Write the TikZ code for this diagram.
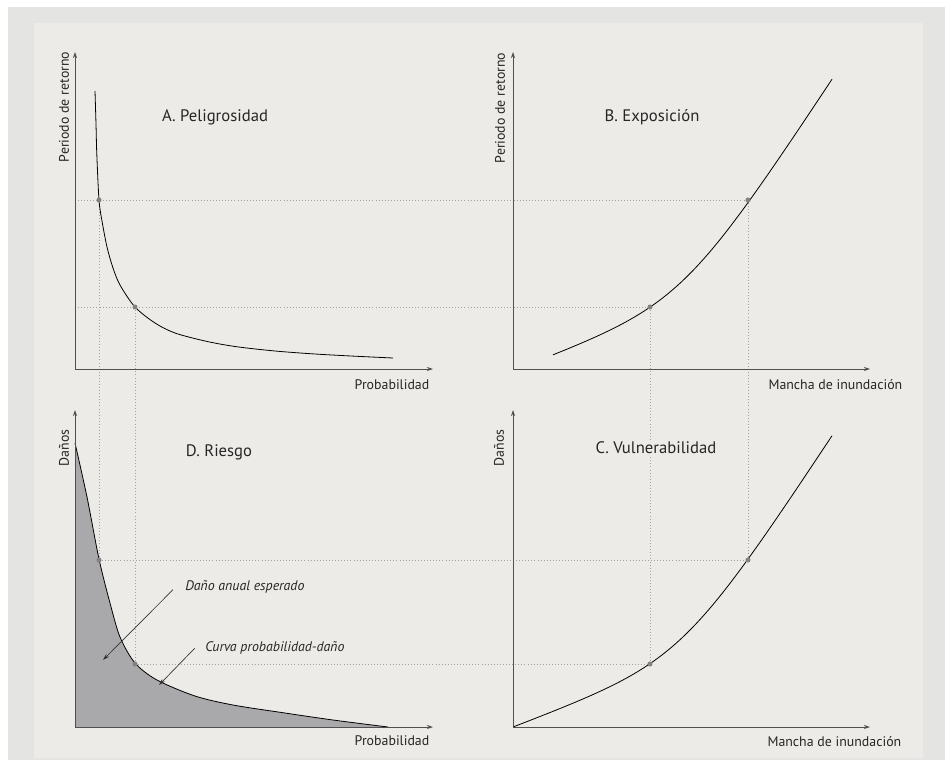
\documentclass[tikz,border=0pt]{standalone}
\usepackage{fontspec}
\setmainfont{PT Sans}
\usetikzlibrary{arrows.meta}
\definecolor{fondo}{HTML}{ECEBE7}
\definecolor{marco}{HTML}{E4E4E2}
\definecolor{relleno}{HTML}{A9A8AA}
\definecolor{colguia}{HTML}{A2A2A2}
\definecolor{coleje}{HTML}{505050}
\def\marca(#1){\fill[colguia!80!black] (#1) circle (1.9pt);}

\begin{document}
\begin{tikzpicture}[x=0.75pt,y=-0.75pt,
	declare function={mancha(\t)=0.95*\t + 37.05*(ln(cosh((\t-170)/65)) - 1.9272);},
	eje/.style={coleje, line width=0.6pt, {Stealth[length=4.5pt,width=3pt]}-{Stealth[length=4.5pt,width=3pt]}},
	curva/.style={black, line width=0.6pt, smooth, tension=0.5},
	guia/.style={colguia, line width=0.6pt, dash pattern=on 0.6pt off 1.7pt},
	titulo/.style={font=\fontsize{12.5}{14}\selectfont, text=black!85},
	rotulo/.style={font=\fontsize{10.4}{12}\selectfont, text=black!85},
	nota/.style={font=\fontsize{10.4}{12}\selectfont\itshape, text=black!85},
	flecha/.style={black!80, line width=0.5pt, -{Stealth[length=5pt,width=3pt]}}]
		%%%%% FONDO %%%%%
		\useasboundingbox (0,0) rectangle (945,760);
		\fill[white] (0,0) rectangle (945,760);
		\fill[marco] (8,7) rectangle (945,760);
		\fill[fondo] (34,23) rectangle (923,758);
		
		%%%%% LINEAS GUIA %%%%%
		\draw[guia] (75,200) -- (748,200);
		\draw[guia] (75,307) -- (650,307);
		\draw[guia] (99,560) -- (748,560);
		\draw[guia] (135,664) -- (650,664);
		\draw[guia] (99,200) -- (99,560);
		\draw[guia] (135,307) -- (135,664);
		\draw[guia] (650,307) -- (650,664);
		\draw[guia] (748,200) -- (748,560);
		
		%%%%% D. RIESGO (relleno) %%%%%
		\begin{scope}[shift={(75,727)}, yscale=-1]
			\fill[relleno] (0,0) -- plot[smooth, tension=0.5] coordinates {(0,284) (12,230) (24,168) (35,124) (45,90) (60,64) (82,47) (120,31) (158,22) (210,14) (258,7) (313,0)} -- cycle;
			\draw[curva] plot coordinates {(0,284) (12,230) (24,168) (35,124) (45,90) (60,64) (82,47) (120,31) (158,22) (210,14) (258,7) (313,0)};
		\end{scope}
		
		%%%%% A. PELIGROSIDAD %%%%%
		\begin{scope}[shift={(75,369)}, yscale=-1]
			\draw[curva] plot coordinates {(20,278) (21,245) (21.8,215) (24,169) (27,148) (32,122) (38,101) (45,84) (60,62) (80,46) (100,36) (130,28) (160,22.5) (200,18) (240,15) (280,12.8) (318,11)};
		\end{scope}
		\draw[eje] (75,52) -- (75,369) -- (433,369);
		
		%%%%% B. EXPOSICION %%%%%
		\begin{scope}[shift={(513,369)}, yscale=-1]
			\draw[black, line width=0.6pt] plot[domain=40:319, samples=60] (\x, {mancha(\x)-1.5});
		\end{scope}
		\draw[eje] (513,52) -- (513,369) -- (870,369);
		
		%%%%% C. VULNERABILIDAD %%%%%
		\begin{scope}[shift={(513,727)}, yscale=-1]
			\draw[black, line width=0.6pt] plot[domain=0:319, samples=60] (\x, {mancha(\x)});
		\end{scope}
		\draw[eje] (513,410) -- (513,727) -- (870,727);
		
		%%%%% D. RIESGO (ejes) %%%%%
		\draw[eje] (75,410) -- (75,727) -- (433,727);
		
		%%%%% PUNTOS %%%%%
		\marca(99,200) \marca(135,307)
		\marca(650,307) \marca(748,200)
		\marca(650,664) \marca(748,560)
		\marca(99,560) \marca(135,664)
		
		%%%%% TEXTOS %%%%%
		\node[titulo] (tA) at (215,117) {A. Peligrosidad};
		\node[titulo] (tB) at (652,117) {B. Exposición};
		\node[titulo, fill=fondo, inner sep=1pt] (tC) at (656,448) {C. Vulnerabilidad};
		\node[titulo] (tD) at (219,452) {D. Riesgo};
		
		\node[rotulo, rotate=90] (yA) at (64,107) {Periodo de retorno};
		\node[rotulo, rotate=90] (yB) at (500,108) {Periodo de retorno};
		\node[rotulo, rotate=90] (yC) at (499,448) {Daños};
		\node[rotulo, rotate=90] (yD) at (64,448) {Daños};
		
		\node[rotulo, anchor=east] (xA) at (434,385) {Probabilidad};
		\node[rotulo, anchor=east] (xB) at (907,385) {Mancha de inundación};
		\node[rotulo, anchor=east] (xC) at (906,742) {Mancha de inundación};
		\node[rotulo, anchor=east] (xD) at (434,741) {Probabilidad};
		
		\node[nota, anchor=west, inner sep=0pt] (dae) at (185,587) {Daño anual esperado};
		\node[nota, anchor=west, inner sep=0pt] (cpd) at (205,648) {Curva probabilidad-daño};
		\coordinate (dae-pta) at (103,660);
		\coordinate (cpd-pta) at (159,685);
		\draw[flecha] ([xshift=-9pt,yshift=-2pt]dae.west) -- (dae-pta);
		\draw[flecha] ([xshift=-7.5pt]cpd.west) -- (cpd-pta);
	\end{tikzpicture}
\end{document}
